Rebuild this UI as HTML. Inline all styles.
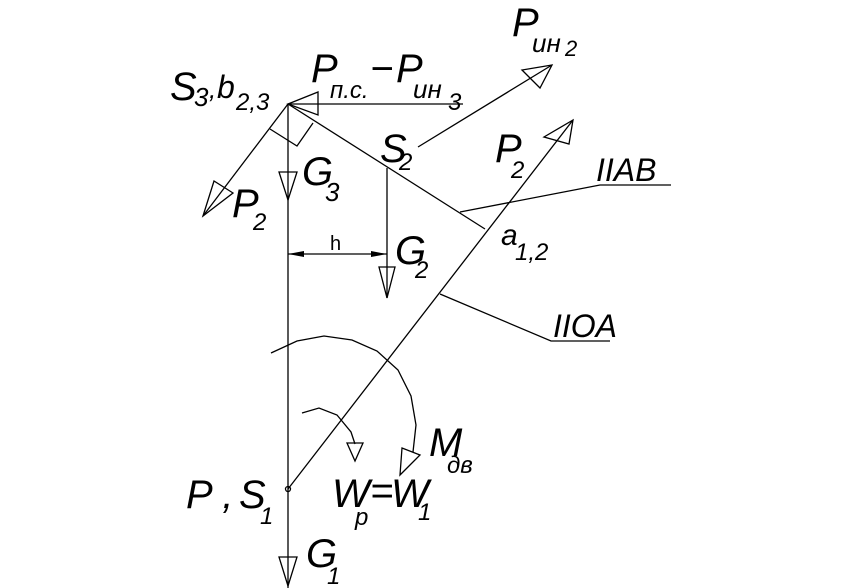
<!DOCTYPE html>
<html><head><meta charset="utf-8"><style>
html,body{margin:0;padding:0;background:#fff;}
svg{display:block;}
text{font-family:"Liberation Sans",sans-serif;font-style:italic;fill:#000;}
</style></head><body>
<svg width="850" height="588" viewBox="0 0 850 588" xmlns="http://www.w3.org/2000/svg">
<g stroke="#000" stroke-width="1.3" fill="none">
<line x1="288" y1="104" x2="288" y2="588"/>
<line x1="288" y1="104" x2="485" y2="229"/>
<line x1="288" y1="489" x2="573" y2="120"/>
<circle cx="288" cy="489" r="2.5"/>
<line x1="288" y1="104" x2="463" y2="104"/>
<polygon points="288,104 318,92 318,115"/>
<line x1="288" y1="104" x2="203" y2="216"/>
<polygon points="203,216 214,181 233,193"/>
<polyline points="270,129 297,146 313,123"/>
<polygon points="279,172 297,172 288,200"/>
<line x1="387" y1="168" x2="387" y2="298"/>
<polygon points="379,267 395,267 387,298"/>
<line x1="288" y1="254" x2="387" y2="254"/>
<line x1="418" y1="147" x2="552" y2="65"/>
<polygon points="552,65 522,70 540,88"/>
<polygon points="573,120 544,137 569,144"/>
<polyline points="460,212 600,185 671,185"/>
<polyline points="440,294 551,341 610,341"/>
<polyline points="271,353 297,341 324,336 352,340 377,351 398,370 411,396 416,425 413,452"/>
<polygon points="402,448 420,455 400,475"/>
<polyline points="302,413 319,408 337,415 351,432 355,444"/>
<polygon points="347,443 363,443 355,461"/>
<polygon points="279,557 297,557 288,586"/>
</g>
<polygon points="288,254 304,251 304,257" fill="#000"/>
<polygon points="387,254 371,251 371,257" fill="#000"/>
<g font-size="40">
<text x="170" y="100">S</text><text x="194" y="106" font-size="26">3</text><text x="209" y="98" font-size="26">,</text>
<text x="217" y="98" font-size="32">b</text><text x="236" y="110" font-size="24">2,3</text>
<text x="311" y="82">P</text><text x="330" y="98" font-size="24">п.с.</text>
<text x="370" y="82">−</text><text x="396" y="82">P</text><text x="413" y="98" font-size="26">ин</text><text x="448" y="110" font-size="24">3</text>
<text x="512" y="36">P</text><text x="532" y="52" font-size="26">ин</text><text x="565" y="56" font-size="22">2</text>
<text x="380" y="162">S</text><text x="399" y="170" font-size="24">2</text>
<text x="495" y="162">P</text><text x="511" y="178" font-size="24">2</text>
<text x="596" y="181" font-size="32">IIAB</text>
<text x="302" y="185">G</text><text x="325" y="201" font-size="26">3</text>
<text x="232" y="217">P</text><text x="253" y="230" font-size="24">2</text>
<text x="330" y="250" font-size="20" style="font-style:normal">h</text>
<text x="395" y="264">G</text><text x="415" y="278" font-size="24">2</text>
<text x="501" y="245" font-size="30">a</text><text x="515" y="260" font-size="24">1,2</text>
<text x="553" y="337" font-size="32">IIOA</text>
<text x="429" y="456">M</text><text x="447" y="473" font-size="24">дв</text>
<text x="186" y="508">P ,</text><text x="239" y="508">S</text><text x="260" y="524" font-size="24">1</text>
<text x="332" y="507">W</text><text x="355" y="525" font-size="24">p</text><text x="370" y="504">=</text><text x="391" y="507">W</text><text x="418" y="520" font-size="24">1</text>
<text x="306" y="567">G</text><text x="327" y="584" font-size="24">1</text>
</g>
</svg>
</body></html>
